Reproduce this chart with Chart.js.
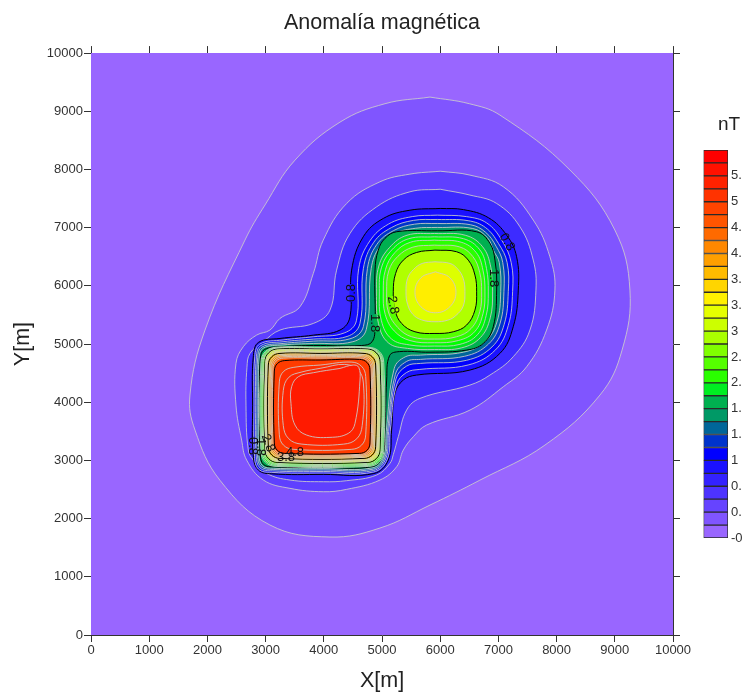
<!DOCTYPE html>
<html>
<head>
<meta charset="utf-8">
<title>Anomalía magnética</title>
<script src="https://cdn.jsdelivr.net/npm/chart.js@4/dist/chart.umd.min.js"></script>
<style>
  html, body { margin: 0; padding: 0; background: #fff; width: 742px; height: 694px; overflow: hidden; }
  #page { position: relative; width: 742px; height: 694px; overflow: hidden; }
  #mapChart { position: absolute; left: 0; top: 0; }
  #barChart { position: absolute; left: 690px; top: 130px; }
  #unit { position: absolute; left: 718px; top: 113px; font: 19px "Liberation Sans", Arial, sans-serif; color: #222; }
</style>
</head>
<body>
<div id="page">
  <canvas id="mapChart" width="700" height="694"></canvas>
  <canvas id="barChart" width="90" height="430"></canvas>
  <div id="unit">nT</div>
</div>
<script>
'use strict';

const axisTicks = [0, 1000, 2000, 3000, 4000, 5000, 6000, 7000, 8000, 9000, 10000];

// colour bar bands, bottom to top
const bandLows = [-0.2, 0, 0.2, 0.4, 0.6, 0.8, 1, 1.2, 1.4, 1.6, 1.8, 2, 2.2, 2.4, 2.6, 2.8, 3, 3.2, 3.4, 3.6, 3.8, 4, 4.2, 4.4, 4.6, 4.8, 5, 5.2, 5.4, 5.6];
const bandColors = ['#9966ff', '#8055ff', '#6644ff', '#4d33ff', '#3322ff', '#1a11ff', '#0000ff', '#0033cc', '#006699', '#009966',
    '#00b050', '#00ee22', '#2aff00', '#55ff00', '#80ff00', '#aaff00', '#ccff00', '#e6ff00', '#fff000', '#ffd500',
    '#ffbb00', '#ff9f00', '#ff8800', '#ff6a00', '#ff5500', '#ff4400', '#ff3300', '#ff2200', '#ff1100', '#ff0000'];
const barTicks = [-0.2, 0.2, 0.6, 1, 1.4, 1.8, 2.2, 2.6, 3, 3.4, 3.8, 4.2, 4.6, 5, 5.4];

// contours, [X, Y] in metres
const domain = [[0, 0], [10000, 0], [10000, 10000], [0, 10000], [0, 0]];
const c02 = [[5825, 9244], [6500, 9130], [7027, 8934], [8230, 7990], [9000, 6960], [9260, 5927], [9125, 4896], [8745, 4124], [7800, 3264], [6680, 2660], [5825, 2233], [4965, 1838], [4106, 1684], [3075, 1890], [2215, 2660], [1787, 3522], [1700, 4124], [1959, 5240], [2645, 6786], [2990, 7390], [3505, 8160], [4278, 8813], [5051, 9130], [5825, 9244]];
const c04 = [[6000, 7970], [6511, 7903], [7084, 7703], [7599, 7130], [7885, 6500], [7971, 5927], [7828, 5240], [7485, 4610], [7084, 4266], [6511, 3865], [5767, 3608], [5538, 3407], [5366, 3178], [5252, 2892], [4965, 2663], [4393, 2503], [3992, 2462], [3419, 2520], [2961, 2663], [2674, 3007], [2588, 3350], [2491, 3950], [2491, 4667], [2617, 4954], [2846, 5154], [3075, 5240], [3247, 5440], [3590, 5640], [3820, 6213], [3990, 6785], [4392, 7415], [4965, 7788], [5480, 7920], [6000, 7970]];
const c06 = [[6000, 7660], [6511, 7560], [6969, 7416], [7370, 7015], [7599, 6443], [7645, 5927], [7542, 5240], [7255, 4782], [6855, 4467], [6511, 4295], [5652, 4066], [5423, 3865], [5280, 3407], [5194, 3100], [5137, 2950], [4908, 2749], [4393, 2652], [3992, 2634], [3419, 2663], [3018, 2778], [2789, 3007], [2703, 3178], [2663, 3950], [2680, 4600], [2732, 4839], [2961, 5040], [3247, 5240], [3820, 5354], [4106, 5583], [4220, 6270], [4450, 6900], [4908, 7358], [5480, 7616], [6000, 7660]];
const c08 = [[6000, 7330], [6400, 7310], [6830, 7170], [7141, 6872], [7313, 6500], [7342, 5927], [7255, 5297], [7026, 4839], [6511, 4553], [5595, 4467], [5366, 4381], [5223, 4152], [5165, 3522], [5108, 3007], [4860, 2775], [3992, 2760], [3100, 2770], [2880, 2830], [2790, 3050], [2777, 3950], [2790, 4800], [2880, 5030], [3247, 5096], [3820, 5153], [4278, 5240], [4450, 5468], [4478, 6270], [4678, 6843], [5022, 7158], [5480, 7300], [6000, 7330]];
const c10 = [[5950, 7215], [6450, 7190], [6800, 7080], [7060, 6780], [7220, 6400], [7244, 5900], [7170, 5320], [6950, 4900], [6480, 4640], [5650, 4564], [5420, 4510], [5250, 4300], [5140, 3500], [5090, 3020], [4850, 2800], [3990, 2785], [3100, 2795], [2880, 2850], [2810, 3070], [2802, 3950], [2815, 4790], [2900, 5000], [3300, 5070], [3820, 5125], [4350, 5190], [4560, 5400], [4600, 6300], [4790, 6770], [5110, 7060], [5520, 7190], [5950, 7215]];
const c12 = [[5950, 7141], [6480, 7120], [6780, 7000], [7000, 6730], [7150, 6400], [7170, 5900], [7100, 5340], [6890, 4950], [6450, 4720], [5660, 4667], [5420, 4620], [5240, 4400], [5115, 3500], [5065, 3030], [4850, 2825], [3990, 2810], [3120, 2820], [2905, 2870], [2838, 3080], [2830, 3950], [2842, 4780], [2920, 4975], [3300, 5040], [3820, 5085], [4400, 5130], [4620, 5350], [4680, 6300], [4860, 6750], [5160, 7000], [5540, 7125], [5950, 7141]];
const c14 = [[5950, 7072], [6520, 7050], [6780, 6920], [6960, 6680], [7075, 6400], [7095, 5900], [7030, 5360], [6830, 5000], [6420, 4790], [5660, 4736], [5420, 4700], [5230, 4480], [5095, 3500], [5045, 3040], [4850, 2850], [3990, 2835], [3130, 2845], [2925, 2890], [2862, 3090], [2855, 3950], [2865, 4770], [2940, 4950], [3300, 5010], [3820, 5050], [4450, 5090], [4680, 5300], [4750, 6300], [4910, 6710], [5200, 6950], [5560, 7060], [5950, 7072]];
const c16 = [[5950, 7004], [6560, 6985], [6810, 6830], [6920, 6600], [7015, 6400], [7040, 5900], [6975, 5380], [6780, 5050], [6400, 4860], [5660, 4810], [5400, 4780], [5210, 4580], [5072, 3500], [5025, 3050], [4840, 2872], [3990, 2858], [3140, 2866], [2945, 2910], [2885, 3100], [2880, 3950], [2888, 4760], [2960, 4930], [3300, 4985], [3820, 5010], [4500, 5040], [4730, 5250], [4815, 6300], [4960, 6670], [5230, 6900], [5580, 6990], [5950, 7004]];
const c18 = [[5950, 6946], [6626, 6929], [6855, 6729], [6941, 6442], [6970, 5927], [6912, 5297], [6740, 5010], [6454, 4896], [5824, 4860], [5300, 4870], [5130, 4800], [5080, 4381], [5050, 3500], [5005, 3060], [4830, 2893], [3990, 2880], [3150, 2888], [2965, 2930], [2908, 3110], [2903, 3950], [2910, 4750], [2980, 4905], [3300, 4955], [3820, 4975], [4650, 4975], [4830, 5040], [4880, 5300], [4880, 6270], [4936, 6614], [5051, 6815], [5251, 6930], [5950, 6946]];

// north lobe, closed loops above the saddle
const n20 = [[5900, 6900], [6430, 6870], [6730, 6670], [6870, 6320], [6900, 5895], [6860, 5450], [6690, 5110], [6370, 4935], [5900, 4905], [5440, 4925], [5110, 5020], [4940, 5350], [4908, 5895], [4945, 6340], [5130, 6660], [5430, 6870], [5900, 6900]];
const n22 = [[5900, 6843], [6400, 6810], [6680, 6620], [6795, 6300], [6826, 5895], [6790, 5490], [6640, 5160], [6340, 4995], [5900, 4965], [5470, 4985], [5160, 5090], [4990, 5400], [4954, 5895], [4990, 6310], [5170, 6620], [5460, 6810], [5900, 6843]];
const n24 = [[5900, 6786], [6360, 6750], [6620, 6570], [6735, 6270], [6769, 5895], [6735, 5520], [6590, 5210], [6310, 5060], [5900, 5022], [5480, 5060], [5210, 5225], [5055, 5510], [5022, 5895], [5060, 6280], [5220, 6570], [5490, 6750], [5900, 6786]];
const n26 = [[5900, 6700], [6330, 6670], [6560, 6505], [6680, 6225], [6712, 5895], [6680, 5555], [6530, 5265], [6280, 5125], [5900, 5085], [5510, 5125], [5270, 5285], [5110, 5550], [5080, 5895], [5115, 6255], [5270, 6505], [5530, 6665], [5900, 6700]];
const n28 = [[5910, 6614], [6282, 6586], [6483, 6442], [6597, 6185], [6626, 5898], [6597, 5583], [6454, 5326], [6225, 5211], [5910, 5182], [5566, 5211], [5337, 5354], [5223, 5583], [5194, 5898], [5234, 6213], [5366, 6442], [5595, 6574], [5910, 6614]];
const n30 = [[5910, 6414], [6170, 6385], [6300, 6290], [6395, 6130], [6425, 5898], [6395, 5650], [6270, 5490], [6130, 5410], [5910, 5383], [5680, 5415], [5530, 5510], [5440, 5680], [5412, 5898], [5440, 6130], [5540, 6280], [5690, 6385], [5910, 6414]];
const n32 = [[5918, 6242], [6167, 6139], [6271, 5890], [6167, 5641], [5918, 5537], [5669, 5641], [5566, 5890], [5669, 6139], [5918, 6242]];

// south lobe
const s20 = [[3950, 4945], [4770, 4945], [4955, 4870], [5030, 4685], [5030, 3157], [4955, 2972], [4770, 2897], [3180, 2897], [2995, 2972], [2920, 3157], [2920, 4685], [2995, 4870], [3180, 4945], [3950, 4945]];
const s22 = [[3950, 4935], [4760, 4935], [4938, 4863], [5010, 4685], [5010, 3164], [4938, 2986], [4760, 2914], [3188, 2914], [3010, 2986], [2938, 3164], [2938, 4685], [3010, 4863], [3188, 4935], [3950, 4935]];
const s24 = [[3950, 4925], [4755, 4925], [4925, 4855], [4995, 4685], [4995, 3171], [4925, 3001], [4755, 2931], [3195, 2931], [3025, 3001], [2955, 3171], [2955, 4685], [3025, 4855], [3195, 4925], [3950, 4925]];
const s26 = [[3950, 4920], [4750, 4920], [4913, 4853], [4980, 4690], [4980, 3178], [4913, 3015], [4750, 2948], [3202, 2948], [3039, 3015], [2972, 3178], [2972, 4690], [3039, 4853], [3202, 4920], [3950, 4920]];
const s28 = [[3950, 4914], [4745, 4914], [4901, 4850], [4965, 4694], [4965, 3186], [4901, 3030], [4745, 2966], [3210, 2966], [3054, 3030], [2990, 3186], [2990, 4694], [3054, 4850], [3210, 4914], [3950, 4914]];
const s30 = [[3950, 4900], [4735, 4900], [4888, 4838], [4950, 4685], [4950, 3195], [4888, 3042], [4735, 2980], [3215, 2980], [3062, 3042], [3000, 3195], [3000, 4685], [3062, 4838], [3215, 4900], [3950, 4900]];
const s32 = [[3950, 4880], [4725, 4880], [4874, 4819], [4935, 4670], [4935, 3205], [4874, 3056], [4725, 2995], [3222, 2995], [3073, 3056], [3012, 3205], [3012, 4670], [3073, 4819], [3222, 4880], [3950, 4880]];
const s34 = [[3950, 4865], [4715, 4865], [4861, 4806], [4920, 4660], [4920, 3213], [4861, 3067], [4715, 3008], [3229, 3008], [3083, 3067], [3024, 3213], [3024, 4660], [3083, 4806], [3229, 4865], [3950, 4865]];
const s36 = [[3950, 4850], [4705, 4850], [4847, 4792], [4905, 4650], [4905, 3222], [4847, 3080], [4705, 3022], [3236, 3022], [3094, 3080], [3036, 3222], [3036, 4650], [3094, 4792], [3236, 4850], [3950, 4850]];
const s38 = [[3950, 4839], [4691, 4839], [4833, 4781], [4891, 4639], [4891, 3235], [4833, 3093], [4691, 3035], [3247, 3035], [3105, 3093], [3047, 3235], [3047, 4639], [3105, 4781], [3247, 4839], [3950, 4839]];
const s40 = [[3950, 4820], [4675, 4820], [4813, 4763], [4870, 4625], [4870, 3247], [4813, 3109], [4675, 3052], [3263, 3052], [3125, 3109], [3068, 3247], [3068, 4625], [3125, 4763], [3263, 4820], [3950, 4820]];
const s42 = [[3950, 4800], [4660, 4800], [4795, 4745], [4850, 4610], [4850, 3260], [4795, 3125], [4660, 3070], [3278, 3070], [3143, 3125], [3088, 3260], [3088, 4610], [3143, 4745], [3278, 4800], [3950, 4800]];
const s44 = [[3950, 4780], [4645, 4780], [4776, 4726], [4830, 4595], [4830, 3273], [4776, 3142], [4645, 3088], [3293, 3088], [3162, 3142], [3108, 3273], [3108, 4595], [3162, 4726], [3293, 4780], [3950, 4780]];
const s46 = [[3950, 4758], [4632, 4758], [4760, 4706], [4812, 4578], [4812, 3285], [4760, 3157], [4632, 3105], [3308, 3105], [3180, 3157], [3128, 3285], [3128, 4578], [3180, 4706], [3308, 4758], [3950, 4758]];
const s48 = [[3950, 4725], [4613, 4736], [4741, 4684], [4793, 4556], [4793, 3301], [4741, 3173], [4613, 3121], [3330, 3121], [3202, 3173], [3150, 3301], [3150, 4536], [3202, 4664], [3330, 4716], [3950, 4725]];
const s50 = [[3950, 4640], [4470, 4690], [4648, 4618], [4720, 4440], [4720, 3440], [4648, 3262], [4470, 3190], [3486, 3190], [3308, 3262], [3236, 3440], [3236, 4350], [3308, 4528], [3486, 4600], [3950, 4640]];
const s52 = [[3950, 4585], [4360, 4650], [4587, 4557], [4680, 4330], [4660, 3600], [4567, 3373], [4340, 3280], [3624, 3280], [3397, 3373], [3304, 3600], [3304, 4200], [3397, 4427], [3624, 4520], [3950, 4585]];
const s54 = [[4278, 4581], [4507, 4639], [4600, 4600], [4622, 4381], [4536, 3636], [4421, 3465], [4106, 3396], [3705, 3436], [3505, 3608], [3436, 3980], [3447, 4266], [3562, 4438], [3820, 4507], [4278, 4581]];

// outermost first; [points, fill inside the contour, index contour?]
const contours = [
    [domain, '#9966ff', null],
    [c02, '#8055ff', false], [c04, '#5f40ff', false], [c06, '#3d2bff', false], [c08, '#1a11ff', true],
    [c10, '#0000ff', false], [c12, '#0033cc', false], [c14, '#006699', false], [c16, '#009966', false], [c18, '#00b050', true],
    [n20, '#00e020', false], [n22, '#00ff00', false],
    [n24, '#2aff00', false], [n26, '#55ff00', false], [n28, '#b0ff00', true], [n30, '#ddff00', false], [n32, '#ffee00', false],
    [s20, '#00e020', false], [s22, '#00ff00', false],
    [s24, '#2aff00', false], [s26, '#55ff00', false], [s28, '#aaff00', true], [s30, '#ccff00', false], [s32, '#e6ff00', false],
    [s34, '#fff000', false], [s36, '#ffd500', false], [s38, '#ffbb00', true], [s40, '#ff9f00', false], [s42, '#ff8800', false],
    [s44, '#ff6a00', false], [s46, '#ff5500', false], [s48, '#ff3c00', true], [s50, '#ff2e00', false], [s52, '#ff2400', false],
    [s54, '#ff1a00', false]
];

// contour labels: text, X, Y, angle in degrees, colour under the broken line
const contourLabels = [
    ['0.8', 4467, 5876, -90, '#1a11ff'],
    ['1.8', 4879, 5360, 90, '#00b050'],
    ['2.8', 5188, 5669, 80, '#80ff00'],
    ['0.8', 7147, 6752, 60, '#1a11ff'],
    ['1.8', 6924, 6133, 90, '#00b050'],
    ['0.8', 2783, 3247, 90, null],
    ['1.8', 2921, 3230, 90, null],
    ['2.8', 3041, 3299, 70, null],
    ['3.8', 3350, 3058, 0, null],
    ['4.8', 3505, 3144, 0, null]
];

const FONT = '"Liberation Sans", Arial, sans-serif';
const INK = '#333';

const contourLabelPlugin = {
    id: 'contourLabels',
    afterDatasetsDraw(chart) {
        const { ctx, scales } = chart;
        ctx.save();
        ctx.font = '13px ' + FONT;
        ctx.textAlign = 'center';
        ctx.textBaseline = 'middle';
        contourLabels.forEach(([text, x, y, angle, under]) => {
            ctx.save();
            ctx.translate(scales.x.getPixelForValue(x), scales.y.getPixelForValue(y));
            ctx.rotate(angle * Math.PI / 180);
            if (under) {
                ctx.fillStyle = under;
                ctx.fillRect(-ctx.measureText(text).width / 2, -1.5, ctx.measureText(text).width, 3);
            }
            ctx.fillStyle = '#111';
            ctx.fillText(text, 0, 0);
            ctx.restore();
        });
        ctx.restore();
    }
};

function setTicks(scale) {
    scale.ticks = axisTicks.map(v => ({ value: v }));
}

function axis(position, size, labelled, title) {
    return {
        type: 'linear',
        position: position,
        axis: position === 'top' || position === 'bottom' ? 'x' : 'y',
        min: 0,
        max: 10000,
        afterBuildTicks: setTicks,
        afterFit(scale) {
            if (scale.isHorizontal()) scale.height = size;
            else scale.width = size;
        },
        border: { color: INK, width: 1 },
        grid: { drawOnChartArea: false, drawTicks: true, tickLength: 7, color: INK },
        ticks: {
            display: labelled,
            autoSkip: false,
            maxRotation: 0,
            color: INK,
            padding: 1,
            font: { family: FONT, size: 13 },
            callback: v => String(v)
        },
        title: title ? {
            display: true,
            text: title,
            color: '#222',
            font: { family: FONT, size: 21.5 },
            padding: { top: 10, bottom: 0 }
        } : { display: false }
    };
}

new Chart(document.getElementById('mapChart'), {
    type: 'scatter',
    data: {
        datasets: contours.map(([pts, color, major], i) => ({
            data: pts.map(p => ({ x: p[0], y: p[1] })),
            showLine: true,
            fill: 'shape',
            backgroundColor: color,
            borderColor: major === null ? 'rgba(0,0,0,0)' : (major ? '#000' : 'rgba(205,205,205,0.85)'),
            borderWidth: major === null ? 0 : 1,
            tension: major === null ? 0 : 0.4,
            pointRadius: 0,
            order: contours.length - i
        }))
    },
    options: {
        responsive: false,
        animation: false,
        events: [],
        plugins: {
            legend: { display: false },
            tooltip: { enabled: false },
            title: {
                display: true,
                fullSize: false,
                text: 'Anomalía magnética',
                color: '#222',
                font: { family: FONT, size: 21.5, weight: 'normal', lineHeight: 1.12 },
                padding: { top: 11, bottom: 11 }
            }
        },
        layout: { padding: 0 },
        scales: {
            x: axis('bottom', 59, true, 'X[m]'),
            y: axis('left', 91, true, 'Y[m]'),
            xTop: axis('top', 7, false),
            yRight: axis('right', 27, false)
        }
    },
    plugins: [contourLabelPlugin]
});

new Chart(document.getElementById('barChart'), {
    type: 'bar',
    data: {
        labels: ['nT'],
        datasets: bandLows.map((low, i) => ({
            data: [[low, i + 1 < bandLows.length ? bandLows[i + 1] : 5.8]],
            backgroundColor: bandColors[i],
            borderColor: '#2a2a2a',
            borderWidth: 1,
            borderSkipped: false,
            grouped: false,
            barPercentage: 1,
            categoryPercentage: 1
        }))
    },
    options: {
        responsive: false,
        animation: false,
        events: [],
        plugins: { legend: { display: false }, tooltip: { enabled: false } },
        layout: { padding: { left: 13.5, top: 20, bottom: 22 } },
        scales: {
            x: { display: false },
            y: {
                position: 'right',
                min: -0.2,
                max: 5.8,
                afterBuildTicks(scale) { scale.ticks = barTicks.map(v => ({ value: v })); },
                afterFit(scale) { scale.width = 52; },
                border: { display: false },
                grid: { display: false, drawTicks: false },
                ticks: {
                    autoSkip: false,
                    color: INK,
                    padding: 3,
                    font: { family: FONT, size: 13 },
                    callback: v => String(v)
                }
            }
        }
    }
});
</script>
</body>
</html>
